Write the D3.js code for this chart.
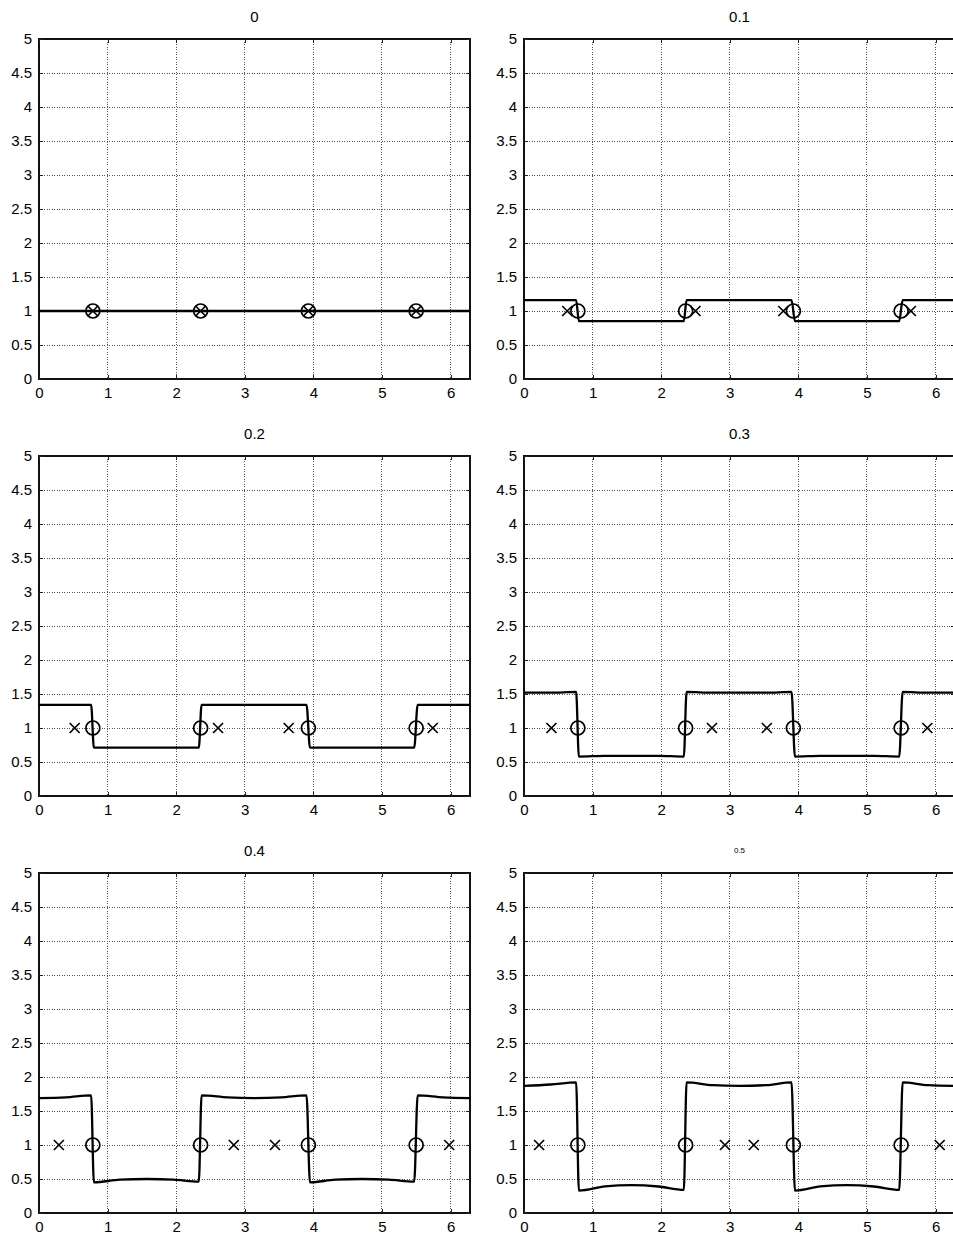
<!DOCTYPE html>
<html>
<head>
<meta charset="utf-8">
<script src="https://cdn.jsdelivr.net/npm/d3@7"></script>
<style>
  html, body { margin: 0; padding: 0; background: #fff; }
  svg { display: block; }
  text { font-family: "Liberation Sans", Arial, Helvetica, sans-serif; fill: #000; }
</style>
</head>
<body>
<svg id="chart" width="953" height="1234"></svg>
<script>
// ---- data ----
const titles = ["0", "0.1", "0.2", "0.3", "0.4", "0.5"];
const xTicks = [0, 1, 2, 3, 4, 5, 6];
const yTicks = [0, 0.5, 1, 1.5, 2, 2.5, 3, 3.5, 4, 4.5, 5];
const yTickLabels = ["0", "0.5", "1", "1.5", "2", "2.5", "3", "3.5", "4", "4.5", "5"];

// sample positions of the profile line (shared by every panel)
const lineX = [0, 0.39, 0.76, 0.80, 1.18, 1.57, 1.96, 2.33, 2.37, 2.75, 3.14, 3.53, 3.90, 3.95, 4.32, 4.71, 5.10, 5.47, 5.52, 5.89, 6.283];
const lineY0 = [1, 1, 1, 1, 1, 1, 1, 1, 1, 1, 1, 1, 1, 1, 1, 1, 1, 1, 1, 1, 1];
const lineY1 = [1.16, 1.16, 1.16, 0.85, 0.85, 0.85, 0.85, 0.85, 1.16, 1.16, 1.16, 1.16, 1.16, 0.85, 0.85, 0.85, 0.85, 0.85, 1.16, 1.16, 1.16];
const lineY2 = [1.34, 1.34, 1.34, 0.71, 0.71, 0.71, 0.71, 0.71, 1.34, 1.34, 1.34, 1.34, 1.34, 0.71, 0.71, 0.71, 0.71, 0.71, 1.34, 1.34, 1.34];
const lineY3 = [1.52, 1.52, 1.53, 0.58, 0.59, 0.59, 0.59, 0.58, 1.53, 1.52, 1.52, 1.52, 1.53, 0.58, 0.59, 0.59, 0.59, 0.58, 1.53, 1.52, 1.52];
const lineY4 = [1.69, 1.70, 1.73, 0.45, 0.49, 0.50, 0.49, 0.46, 1.73, 1.70, 1.69, 1.70, 1.73, 0.45, 0.49, 0.50, 0.49, 0.46, 1.73, 1.70, 1.69];
const lineY5 = [1.87, 1.89, 1.92, 0.33, 0.39, 0.41, 0.39, 0.34, 1.92, 1.88, 1.87, 1.88, 1.92, 0.33, 0.39, 0.41, 0.39, 0.34, 1.92, 1.88, 1.87];
const lineYs = [lineY0, lineY1, lineY2, lineY3, lineY4, lineY5];

// circle markers (fixed) and cross markers (moving) at y = 1
const circleX = [0.785, 2.356, 3.927, 5.498];
const circleY = [1, 1, 1, 1];
const crossX0 = [0.785, 2.356, 3.927, 5.498];
const crossX1 = [0.63, 2.50, 3.78, 5.64];
const crossX2 = [0.52, 2.61, 3.64, 5.74];
const crossX3 = [0.40, 2.74, 3.54, 5.88];
const crossX4 = [0.29, 2.84, 3.44, 5.98];
const crossX5 = [0.22, 2.93, 3.35, 6.06];
const crossXs = [crossX0, crossX1, crossX2, crossX3, crossX4, crossX5];
const crossY = [1, 1, 1, 1];

// ---- layout ----
const svg = d3.select("#chart");
const colLeft = [39, 524];
const rowTop = [39, 456, 873];
const W = 431, H = 340;
const FONT = '"Liberation Sans", Arial, Helvetica, sans-serif';

titles.forEach((title, i) => {
  const col = i % 2, row = Math.floor(i / 2);
  const g = svg.append("g").attr("transform", `translate(${colLeft[col]},${rowTop[row]})`);
  const x = d3.scaleLinear().domain([0, 2 * Math.PI]).range([0, W]);
  const y = d3.scaleLinear().domain([0, 5]).range([H, 0]);

  // grid
  g.append("g").selectAll("line").data(xTicks.filter(t => t > 0)).join("line")
    .attr("x1", d => x(d)).attr("x2", d => x(d)).attr("y1", 0).attr("y2", H)
    .attr("stroke", "#555").attr("stroke-width", 1).attr("stroke-dasharray", "1,1.5")
    .attr("shape-rendering", "crispEdges");
  g.append("g").selectAll("line").data(yTicks.filter(t => t > 0 && t < 5)).join("line")
    .attr("x1", 0).attr("x2", W).attr("y1", d => y(d)).attr("y2", d => y(d))
    .attr("stroke", "#555").attr("stroke-width", 1).attr("stroke-dasharray", "1,1.5")
    .attr("shape-rendering", "crispEdges");

  // frame
  g.append("rect").attr("x", 0).attr("y", 0).attr("width", W).attr("height", H)
    .attr("fill", "none").attr("stroke", "#111").attr("stroke-width", 1.2)
    .attr("shape-rendering", "crispEdges");

  // axes (inward ticks)
  const xAxis = d3.axisBottom(x).tickValues(xTicks).tickSizeInner(-4).tickSizeOuter(0).tickPadding(8)
    .tickFormat(d3.format("d"));
  const gx = g.append("g").attr("transform", `translate(0,${H})`).call(xAxis);
  const xAxisTop = d3.axisTop(x).tickValues(xTicks).tickSizeInner(-4).tickSizeOuter(0).tickFormat("");
  const gxt = g.append("g").call(xAxisTop);
  const yAxis = d3.axisLeft(y).tickValues(yTicks).tickSizeInner(-4).tickSizeOuter(0).tickPadding(8)
    .tickFormat((d, k) => yTickLabels[k]);
  const gy = g.append("g").call(yAxis);
  const yAxisR = d3.axisRight(y).tickValues(yTicks).tickSizeInner(-4).tickSizeOuter(0).tickFormat("");
  const gyr = g.append("g").attr("transform", `translate(${W},0)`).call(yAxisR);
  [gx, gxt, gy, gyr].forEach(a => {
    a.select(".domain").remove();
    a.selectAll("line").attr("stroke", "#222").attr("shape-rendering", "crispEdges");
    a.selectAll("text").style("font-size", "15px").style("font-family", FONT).attr("fill", "#000");
  });
  gy.selectAll("text").attr("dx", "1");
  gx.selectAll("text").attr("dy", "0.72em");

  // title
  g.append("text").attr("x", W / 2).attr("y", i === 5 ? -20 : -17)
    .attr("text-anchor", "middle")
    .style("font-size", i === 5 ? "8px" : "15px")
    .style("font-family", FONT)
    .text(title);

  // profile line
  const pts = lineX.map((xv, k) => [xv, lineYs[i][k]]);
  const line = d3.line().x(d => x(d[0])).y(d => y(d[1])).curve(d3.curveMonotoneX);
  g.append("path").datum(pts).attr("d", line)
    .attr("fill", "none").attr("stroke", "#000").attr("stroke-width", 2.3)
    .attr("stroke-linejoin", "round");

  // circles
  g.append("g").selectAll("circle").data(circleX.map((cx, k) => [cx, circleY[k]])).join("circle")
    .attr("cx", d => x(d[0])).attr("cy", d => y(d[1])).attr("r", 7)
    .attr("fill", "none").attr("stroke", "#000").attr("stroke-width", 1.7);

  // crosses
  const s = 5;
  g.append("g").selectAll("path").data(crossXs[i].map((cx, k) => [cx, crossY[k]])).join("path")
    .attr("d", d => {
      const px = x(d[0]), py = y(d[1]);
      return `M${px - s},${py - s}L${px + s},${py + s}M${px - s},${py + s}L${px + s},${py - s}`;
    })
    .attr("fill", "none").attr("stroke", "#000").attr("stroke-width", 1.7);
});
</script>
</body>
</html>
